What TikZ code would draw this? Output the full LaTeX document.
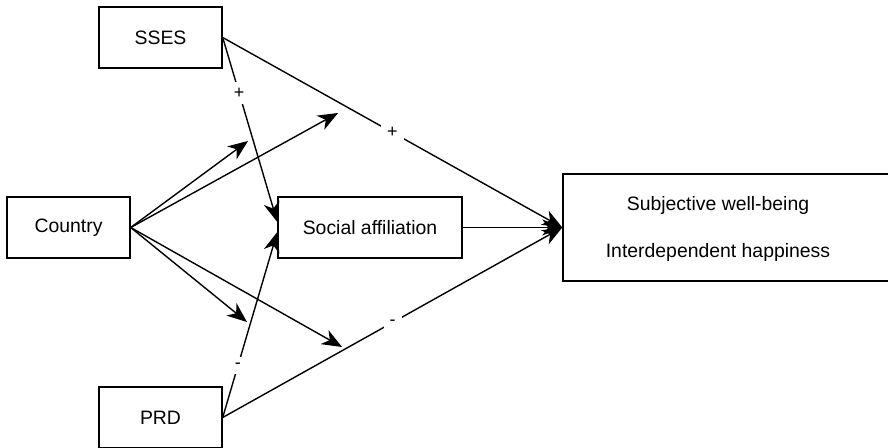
\documentclass[tikz,border=0pt]{standalone}
\usepackage{fontspec}
\setmainfont{Liberation Sans}
\usetikzlibrary{arrows.meta}

\begin{document}
\begin{tikzpicture}[x=0.5pt,y=-0.5pt,
  box/.style={draw,line width=0.7pt,minimum height=30.5pt,font=\fontsize{9.7}{11}\selectfont},
  link/.style={line width=0.7pt,-{Stealth[length=10pt,width=8pt,inset=3pt]}},
  sign/.style={fill=white,inner sep=3pt,font=\fontsize{9}{10}\selectfont},
  txt/.style={font=\fontsize{9.7}{11}\selectfont}]
\useasboundingbox (0,0) rectangle (888,448);
\clip (0,0) rectangle (888,448);
% boxes
\node[box,minimum width=61.5pt] (sses) at (160.5,37.5) {SSES};
\node[box,minimum width=61.5pt] (country) at (68.5,227.5) {Country};
\node[box,minimum width=92pt] (soc) at (370,227.5) {Social affiliation};
\node[box,minimum width=61.5pt] (prd) at (160.5,417.5) {PRD};
\node[box,minimum width=168.5pt,minimum height=53.5pt] (out) at (731.5,227.5) {};
\node[txt] (swb) at (718,205) {Subjective well-being};
\node[txt] (ih) at (718,252) {Interdependent happiness};
% moderation points
\coordinate (m1) at (248,141);
\coordinate (m2) at (338,113);
\coordinate (m3) at (247,322);
\coordinate (m4) at (342,347);
% paths
\draw[link] (sses.east) -- node[sign,pos=0.3]{+} ([yshift=2.75pt]soc.west);
\draw[link] (sses.east) -- node[sign]{+} (out.west);
\draw[link] (prd.east) -- node[sign,pos=0.28]{-} ([yshift=-2.25pt]soc.west);
\draw[link] (prd.east) -- node[sign]{-} (out.west);
\draw[link] (soc.east) -- (out.west);
\draw[link] (country.east) -- (m1);
\draw[link] (country.east) -- (m2);
\draw[link] (country.east) -- (m3);
\draw[link] (country.east) -- (m4);
\end{tikzpicture}
\end{document}
